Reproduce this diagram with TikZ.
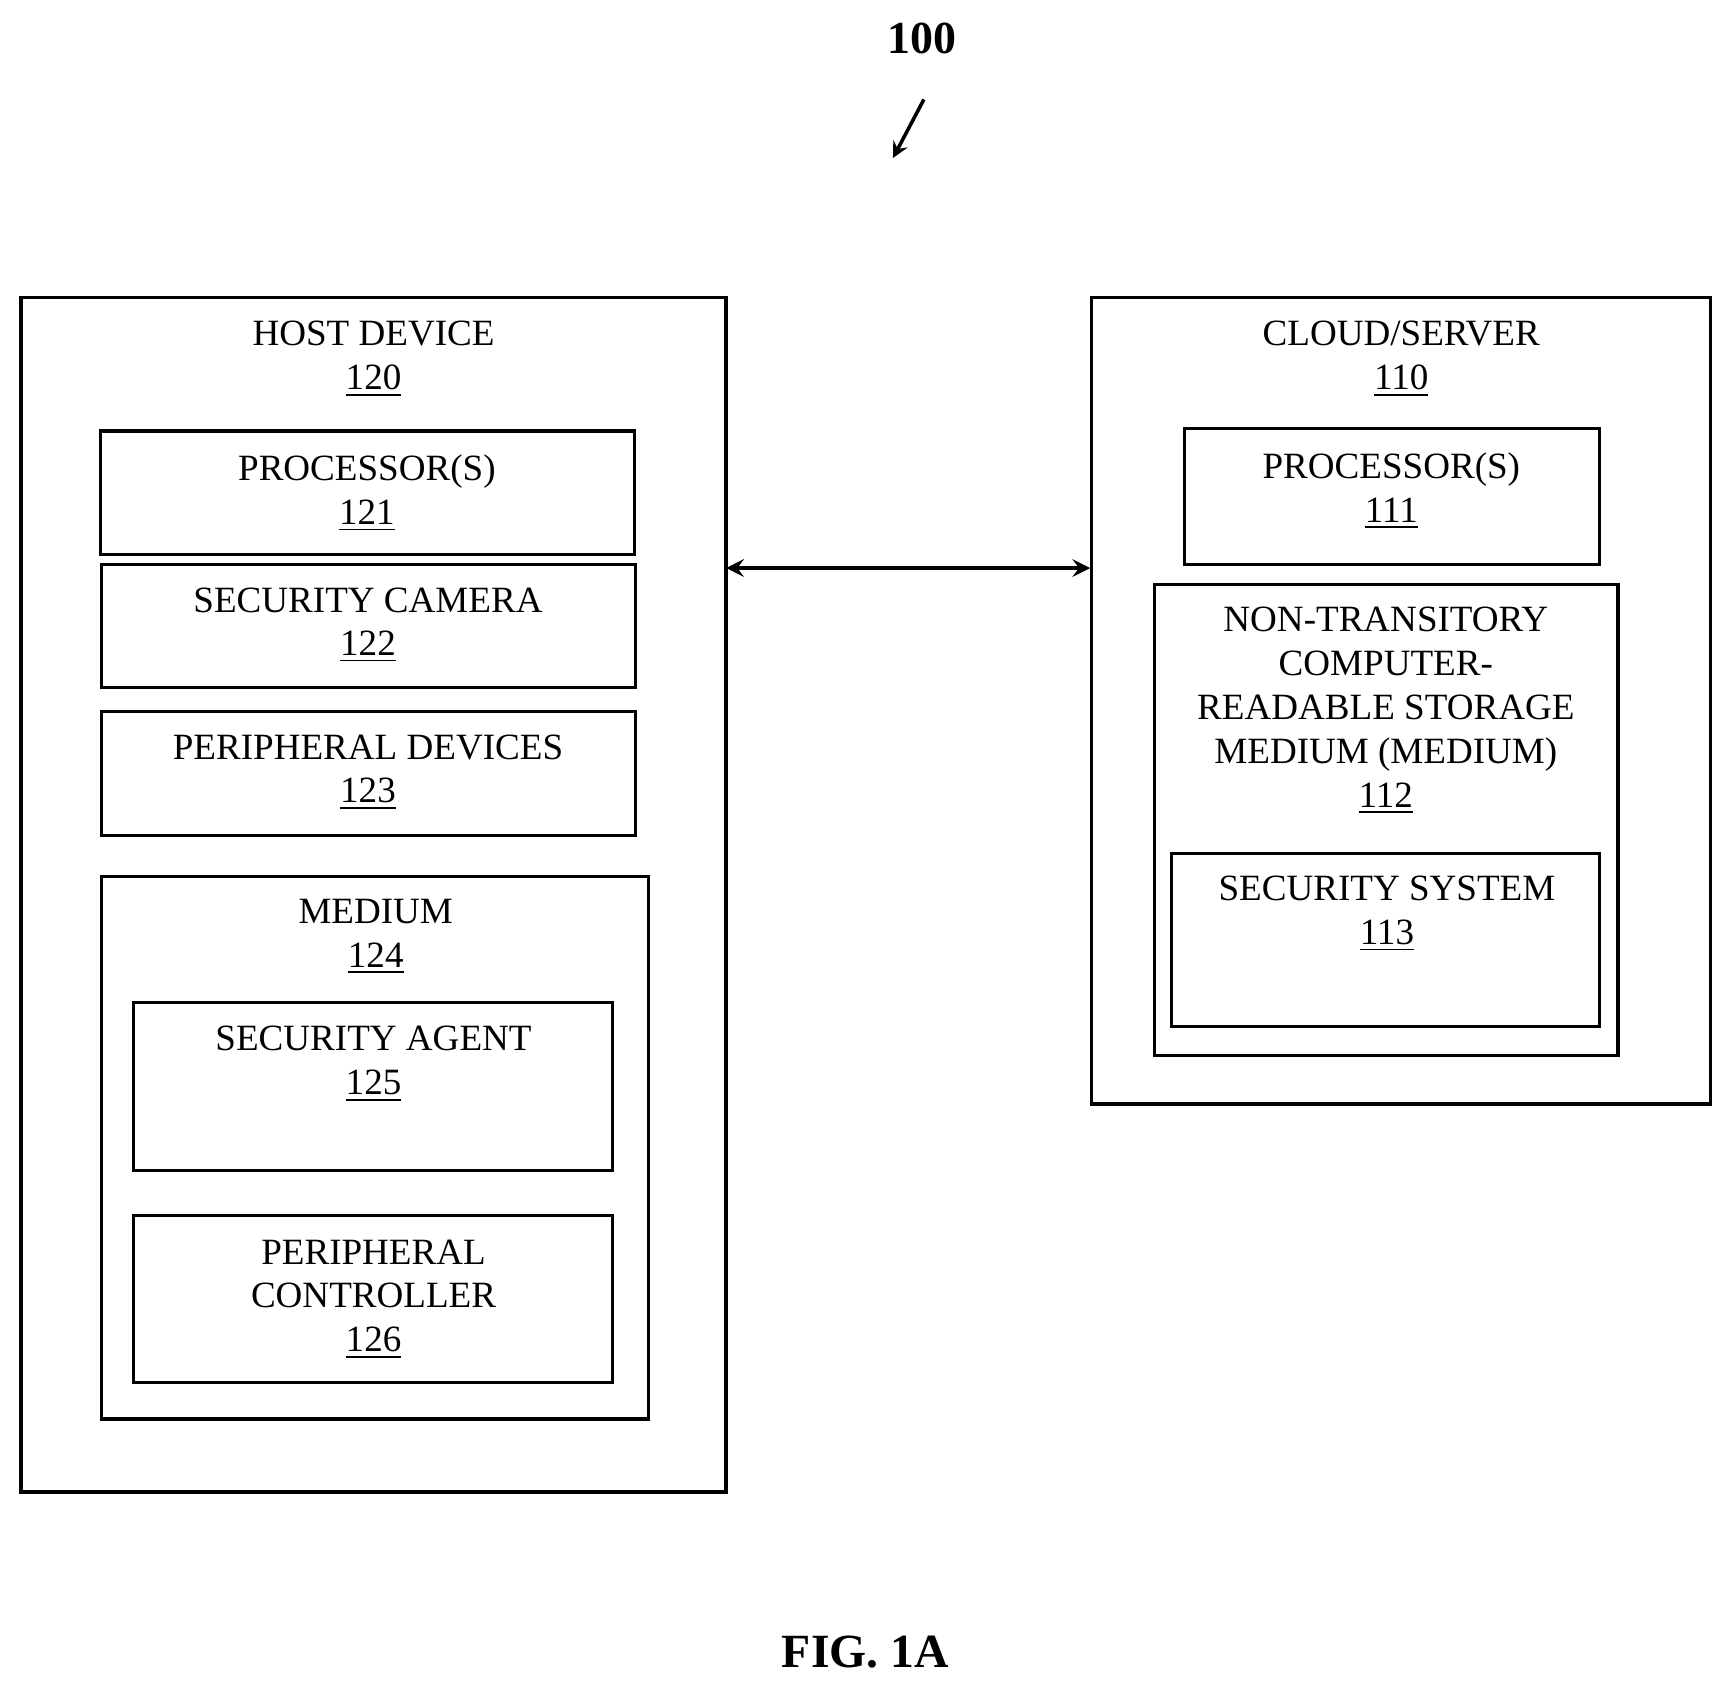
\documentclass[tikz,border=0pt]{standalone}
\usepackage{fontspec}
\setmainfont{Liberation Serif}
\usetikzlibrary{positioning}
\begin{document}
\begin{tikzpicture}[x=0.011cm,y=-0.011cm,
  box/.style={draw,line width=0.9pt,inner sep=0pt},
  lbl/.style={anchor=north,align=center,inner sep=0pt,font=\fontsize{10.5}{12.4}\selectfont},
  >=stealth]
\useasboundingbox (0,0) rectangle (1560,1521);

%outer boxes
\node[box,minimum width=638*0.011cm,minimum height=1081*0.011cm] (host) at (338,809.5) {};
\node[box,minimum width=560*0.011cm,minimum height=730*0.011cm] (cloud) at (1268,634) {};

%host parts
\node[box,minimum width=483*0.011cm,minimum height=112*0.011cm] (p121) at (332.5,446) {};
\node[box,minimum width=483*0.011cm,minimum height=111*0.011cm] (p122) at (333.5,566.5) {};
\node[box,minimum width=483*0.011cm,minimum height=112*0.011cm] (p123) at (333.5,700) {};
\node[box,minimum width=495*0.011cm,minimum height=491*0.011cm] (p124) at (339.5,1038.5) {};
\node[box,minimum width=433*0.011cm,minimum height=152*0.011cm] (p125) at (337.5,983) {};
\node[box,minimum width=433*0.011cm,minimum height=151*0.011cm] (p126) at (337.5,1175.5) {};

%cloud parts
\node[box,minimum width=375*0.011cm,minimum height=123*0.011cm] (p111) at (1259.5,449.5) {};
\node[box,minimum width=419*0.011cm,minimum height=426*0.011cm] (p112) at (1254.5,742) {};
\node[box,minimum width=387*0.011cm,minimum height=157*0.011cm] (p113) at (1253.5,850.5) {};

%labels
\node[lbl] at (338,290) {HOST DEVICE\\\underline{120}};
\node[lbl] at (332,411) {PROCESSOR(S)\\\underline{121}};
\node[lbl] at (333,531) {SECURITY CAMERA\\\underline{122}};
\node[lbl] at (333,664) {PERIPHERAL DEVICES\\\underline{123}};
\node[lbl] at (340,813) {MEDIUM\\\underline{124}};
\node[lbl] at (338,928) {SECURITY AGENT\\\underline{125}};
\node[lbl] at (338,1121) {PERIPHERAL\\CONTROLLER\\\underline{126}};
\node[lbl] at (1268,290) {CLOUD/SERVER\\\underline{110}};
\node[lbl] at (1259,409) {PROCESSOR(S)\\\underline{111}};
\node[lbl] at (1254,549) {NON-TRANSITORY\\COMPUTER-\\READABLE STORAGE\\MEDIUM (MEDIUM)\\\underline{112}};
\node[lbl] at (1255,792) {SECURITY SYSTEM\\\underline{113}};

%link
\coordinate (lk) at (657,514);
\draw[<->,line width=1.2pt] (lk) -- (lk -| cloud.west);

%figure refs
\node[font=\bfseries\fontsize{13}{15}\selectfont] (ref) at (834,35) {100};
\coordinate (r1) at (836,90);
\coordinate (r2) at (808,143);
\draw[->,line width=1pt] (r1) -- (r2);
\node[font=\bfseries\fontsize{13.5}{16}\selectfont] (fig) at (783,1495) {FIG. 1A};
\end{tikzpicture}
\end{document}
